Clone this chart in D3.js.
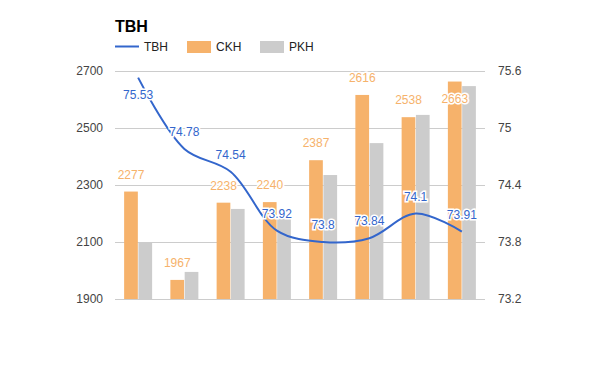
<!DOCTYPE html>
<html>
<head>
<meta charset="utf-8">
<script src="https://cdn.jsdelivr.net/npm/d3@7"></script>
<style>
  body { margin: 0; background: #fff; }
  text { font-family: "Liberation Sans", Arial, sans-serif; }
</style>
</head>
<body>
<div id="main"></div>
<script>
// **** data ****
var categories = ["1", "2", "3", "4", "5", "6", "7", "8"];
var ckh = [2277, 1967, 2238, 2240, 2387, 2616, 2538, 2663];
var pkh = [2100, 1995, 2216, 2183, 2335, 2447, 2546, 2647];
var tbh = [75.53, 74.78, 74.54, 73.92, 73.8, 73.84, 74.1, 73.91];
var leftTicks = [1900, 2100, 2300, 2500, 2700];
var rightTicks = [73.2, 73.8, 74.4, 75, 75.6];

var colOrange = "#f6b26b", colGray = "#cccccc", colBlue = "#3366cc";

var margin = {top: 71, right: 115, bottom: 72, left: 115},
    width = 600 - margin.left - margin.right,
    height = 371 - margin.top - margin.bottom;

var svg = d3.select("#main")
  .append("svg")
    .attr("width", 600)
    .attr("height", 371);

var g = svg.append("g")
  .attr("transform", "translate(" + margin.left + "," + margin.top + ")");

// **** scales ****
var x = d3.scaleBand().domain(categories).range([0, width]);
var xSub = d3.scaleBand().domain(["ckh", "pkh"]).range([x.bandwidth() / 2 - 14, x.bandwidth() / 2 + 14]).paddingInner(0.04);
var yL = d3.scaleLinear().domain([1900, 2700]).range([height, 0]);
var yR = d3.scaleLinear().domain([73.2, 75.6]).range([height, 0]);

// **** gridlines ****
g.append("g").selectAll("line")
  .data(leftTicks)
  .enter().append("line")
    .attr("x1", 0).attr("x2", width)
    .attr("y1", function(d){ return Math.round(yL(d)) + 0.5; })
    .attr("y2", function(d){ return Math.round(yL(d)) + 0.5; })
    .style("stroke", "#cccccc");

// **** axes ****
var axL = g.append("g").call(d3.axisLeft(yL).tickValues(leftTicks).tickSize(0).tickPadding(12).tickFormat(d3.format("d")));
axL.select(".domain").remove();
axL.selectAll("text").style("font-size", "12px").style("fill", "#444").style("font-family", "Liberation Sans, Arial, sans-serif");

var axR = g.append("g").attr("transform", "translate(" + width + ",0)")
  .call(d3.axisRight(yR).tickValues(rightTicks).tickSize(0).tickPadding(13).tickFormat(d3.format("")));
axR.select(".domain").remove();
axR.selectAll("text").style("font-size", "12px").style("fill", "#444").style("font-family", "Liberation Sans, Arial, sans-serif");

// **** bars ****
var rows = categories.map(function(c, i){ return {cat: c, ckh: ckh[i], pkh: pkh[i], tbh: tbh[i]}; });

var groups = g.append("g").selectAll("g")
  .data(rows)
  .enter().append("g")
    .attr("transform", function(d){ return "translate(" + x(d.cat) + ",0)"; });

groups.append("rect")
  .attr("x", xSub("ckh"))
  .attr("width", xSub.bandwidth())
  .attr("y", function(d){ return yL(d.ckh); })
  .attr("height", function(d){ return height - yL(d.ckh); })
  .style("fill", colOrange);

groups.append("rect")
  .attr("x", xSub("pkh"))
  .attr("width", xSub.bandwidth())
  .attr("y", function(d){ return yL(d.pkh); })
  .attr("height", function(d){ return height - yL(d.pkh); })
  .style("fill", colGray);

// **** line ****
var line = d3.line()
  .x(function(d){ return x(d.cat) + x.bandwidth() / 2; })
  .y(function(d){ return yR(d.tbh); })
  .curve(d3.curveCatmullRom.alpha(0.5));

g.append("path")
  .datum(rows)
  .attr("d", line)
  .style("fill", "none")
  .style("stroke", colBlue)
  .style("stroke-width", 2);

// **** annotations ****
function labelY(top) {
  // above the mark, unless it would leave the plot area
  return (top - 13 < 0) ? top + 21 : top - 13;
}

groups.append("text")
  .attr("x", xSub("ckh") + xSub.bandwidth() / 2)
  .attr("y", function(d){ return labelY(yL(d.ckh)); })
  .attr("text-anchor", "middle")
  .text(function(d){ return d.ckh; })
  .style("font-size", "12px")
  .style("fill", colOrange)
  .style("stroke", "#fff").style("stroke-width", 3).style("paint-order", "stroke");

g.append("g").selectAll("text")
  .data(rows)
  .enter().append("text")
    .attr("x", function(d){ return x(d.cat) + x.bandwidth() / 2; })
    .attr("y", function(d){ return labelY(yR(d.tbh)); })
    .attr("text-anchor", "middle")
    .text(function(d){ return d.tbh; })
    .style("font-size", "12px")
    .style("fill", colBlue)
    .style("stroke", "#fff").style("stroke-width", 3).style("paint-order", "stroke");

// **** title & legend ****
svg.append("text")
  .attr("x", 115).attr("y", 32)
  .text("TBH")
  .style("font-size", "16px")
  .style("font-weight", "bold");

var legend = [
  {name: "TBH", color: colBlue, type: "line", x: 115},
  {name: "CKH", color: colOrange, type: "rect", x: 187},
  {name: "PKH", color: colGray, type: "rect", x: 260}
];

legend.forEach(function(l){
  if (l.type == "line") {
    svg.append("line")
      .attr("x1", l.x).attr("x2", l.x + 24)
      .attr("y1", 46.5).attr("y2", 46.5)
      .style("stroke", l.color).style("stroke-width", 2);
  } else {
    svg.append("rect")
      .attr("x", l.x).attr("y", 41)
      .attr("width", 24).attr("height", 12)
      .style("fill", l.color);
  }
  svg.append("text")
    .attr("x", l.x + 29).attr("y", 51)
    .text(l.name)
    .style("font-size", "12px")
    .style("fill", "#222");
});
</script>
</body>
</html>
